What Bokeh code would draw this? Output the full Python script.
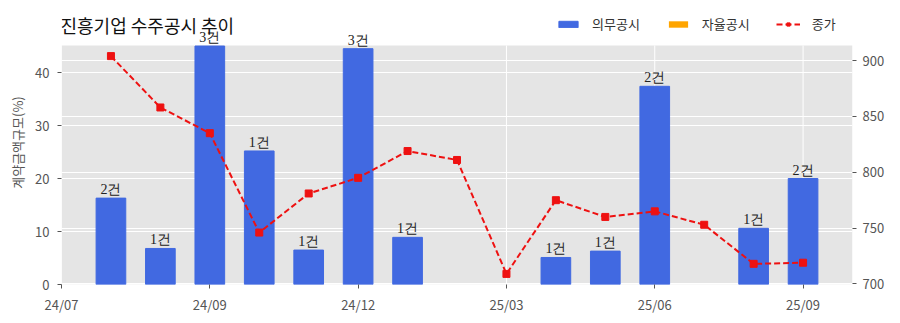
from bokeh.plotting import figure
from bokeh.models import (Range1d, LinearAxis, FixedTicker, Grid, ColumnDataSource,
                          LabelSet, Legend, LegendItem, Label)
from bokeh.embed import file_html
from bokeh.resources import INLINE

# ---- data ----
months = ["24/07", "24/08", "24/09", "24/10", "24/11", "24/12", "25/01", "25/02",
          "25/03", "25/04", "25/05", "25/06", "25/07", "25/08", "25/09"]
mandatory_pct = [16.3, 6.8, 45.0, 25.2, 6.5, 44.5, 8.9, 0, 0, 5.1, 6.3, 37.4, 0, 10.6, 20.0]
mandatory_cnt = [2, 1, 3, 1, 1, 3, 1, 0, 0, 1, 1, 2, 0, 1, 2]
voluntary_pct = [0, 0, 0, 0, 0, 0, 0, 0, 0, 0, 0, 0, 0, 0, 0]
close_price = [904, 858, 835, 746, 781, 795, 819, 811, 709, 775, 760, 765, 753, 718, 719]
tick_pos = [-1, 2, 5, 8, 11, 14]
tick_labels = ["24/07", "24/09", "24/12", "25/03", "25/06", "25/09"]
left_ticks = [0, 10, 20, 30, 40]
right_ticks = [700, 750, 800, 850, 900]

FONT = "Noto Sans CJK KR"
GRAY = "#555555"

# plot-area geometry (pixels): frame spans the whole top so texts above the gray area are not clipped
W, H = 900, 323
BOTTOM = 39
FRAME_H = H - BOTTOM            # 284
AREA_H = 239                    # gray plotting area height
Y_MAX = 45.1                    # left axis at top of gray area
P_MIN, P_MAX = 699.5, 913.5     # right axis span of gray area
y_top = Y_MAX * FRAME_H / AREA_H
p_top = P_MIN + (P_MAX - P_MIN) * FRAME_H / AREA_H

def py2y(py):  # pixel row -> left axis value
    return Y_MAX * (FRAME_H - py) / AREA_H

xs = list(range(len(months)))
bar_x = [x for x, v in zip(xs, mandatory_pct) if v > 0]
bar_v = [v for v in mandatory_pct if v > 0]
bar_t = [f"{c}건" for c, v in zip(mandatory_cnt, mandatory_pct) if v > 0]
bar_src = ColumnDataSource(dict(x=bar_x, top=bar_v, label=bar_t))
vol_src = ColumnDataSource(dict(x=xs, top=voluntary_pct))
price_src = ColumnDataSource(dict(x=xs, y=close_price))

p = figure(width=W, height=H, output_backend="svg", toolbar_location=None, title=None,
           x_range=Range1d(-1, 15), y_range=Range1d(0, y_top),
           min_border_left=61, min_border_right=48, min_border_top=0, min_border_bottom=BOTTOM)
p.extra_y_ranges = {"price": Range1d(P_MIN, p_top)}

p.background_fill_color = "white"
p.border_fill_color = "white"
p.outline_line_color = None

# gray plotting area
p.quad(left=[-1], right=[15], bottom=[0], top=[Y_MAX], fill_color="#E5E5E5",
       line_color=None, level="image")

# grids
p.xgrid.visible = False
p.segment(x0=tick_pos, y0=[0] * len(tick_pos), x1=tick_pos, y1=[Y_MAX] * len(tick_pos),
          line_color="white", line_width=1, level="underlay")
p.ygrid.ticker = FixedTicker(ticks=left_ticks)
p.ygrid.grid_line_color = "white"
p.ygrid.grid_line_width = 1
rgrid = Grid(dimension=1, ticker=FixedTicker(ticks=right_ticks),
             y_range_name="price", grid_line_color="white", grid_line_width=1)
p.add_layout(rgrid)

# axes
def style_axis(ax):
    ax.axis_line_color = None
    ax.major_tick_line_color = GRAY
    ax.major_tick_out = 4
    ax.major_tick_in = 0
    ax.minor_tick_line_color = None
    ax.major_label_text_font = FONT
    ax.major_label_text_font_size = "13px"
    ax.major_label_text_color = GRAY
    ax.major_label_standoff = 6

p.xaxis.ticker = FixedTicker(ticks=tick_pos)
p.xaxis.major_label_overrides = {t: l for t, l in zip(tick_pos, tick_labels)}
style_axis(p.xaxis[0])
p.yaxis.ticker = FixedTicker(ticks=left_ticks)
p.yaxis.bounds = (0, Y_MAX)
style_axis(p.yaxis[0])
p.yaxis.major_label_standoff = 8
p.yaxis.axis_label = "계약금액규모(%)"
p.yaxis.axis_label_text_font = FONT
p.yaxis.axis_label_text_font_size = "13px"
p.yaxis.axis_label_text_font_style = "normal"
p.yaxis.axis_label_text_color = GRAY

raxis = LinearAxis(y_range_name="price", ticker=FixedTicker(ticks=right_ticks),
                   bounds=(P_MIN, P_MAX))
style_axis(raxis)
p.add_layout(raxis, "right")

# bars
r_bar = p.vbar(x="x", top="top", width=0.6, source=bar_src, color="#4169E1")
r_vol = p.vbar(x="x", top="top", width=0.6, source=vol_src, fill_color="#FFA500",
               line_color=None)

labels = LabelSet(x="x", y="top", text="label", source=bar_src, text_align="center",
                  text_baseline="bottom", y_offset=1, text_font=FONT,
                  text_font_size="14px", text_color="#222222")
p.add_layout(labels)

# price line
r_line = p.line(x="x", y="y", source=price_src, y_range_name="price",
                line_color="#EE1111", line_width=2, line_dash="6 3")
r_pts = p.scatter(x="x", y="y", source=price_src, y_range_name="price",
                  marker="square", size=7, color="#EE1111")

# title
p.add_layout(Label(x=-1, y=py2y(11), text="진흥기업 수주공시 추이", text_font=FONT,
                   text_font_size="18px", text_color="#111111", text_baseline="top",
                   x_offset=-1))

legend = Legend(items=[LegendItem(label="의무공시", renderers=[r_bar]),
                       LegendItem(label="자율공시", renderers=[r_vol]),
                       LegendItem(label="종가", renderers=[r_line, r_pts])],
                orientation="horizontal", location=(495, FRAME_H - 33),
                glyph_width=24, glyph_height=8, label_height=16, label_standoff=12,
                spacing=26, padding=0, margin=0,
                label_text_font=FONT, label_text_font_size="13px", label_text_color="#333333",
                background_fill_alpha=0, border_line_color=None)
p.add_layout(legend, "center")

open("out.html", "w").write(file_html(p, INLINE))
